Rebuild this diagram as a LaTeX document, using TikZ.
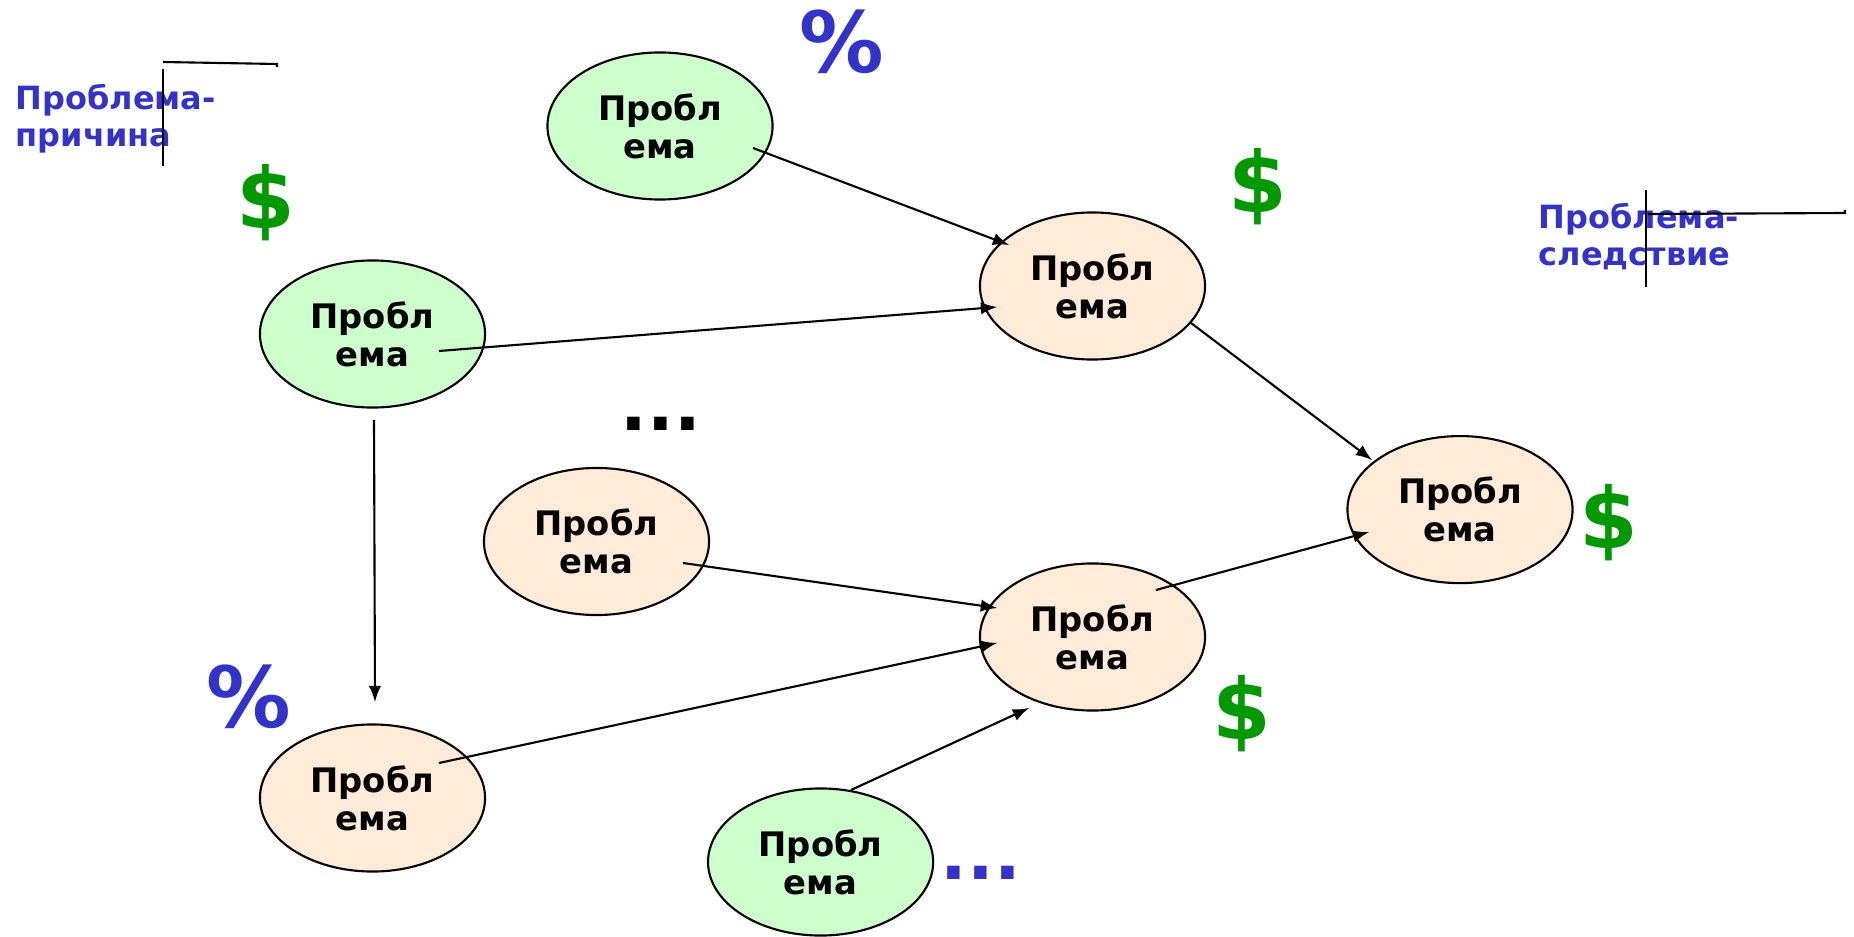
\documentclass[tikz,border=0pt]{standalone}
\usepackage{fontspec}
\setmainfont{DejaVu Sans}
\usepackage{tikz}
\usetikzlibrary{shapes.geometric, arrows, calc}
\definecolor{causegreen}{HTML}{CCFFCC}
\definecolor{effectbeige}{HTML}{FFEBD7}
\definecolor{labelblue}{HTML}{3333CC}
\definecolor{moneygreen}{HTML}{009900}
\tikzstyle{cause-ell} = [
    ellipse, minimum width=2.25cm, minimum height=1.47cm, line width=0.6pt,
    align=center, draw=black, fill=causegreen,
    font=\bfseries\fontsize{9.6}{10.8}\selectfont
]
\tikzstyle{effect-ell} = [
    ellipse, minimum width=2.25cm, minimum height=1.47cm, line width=0.6pt,
    align=center, draw=black, fill=effectbeige,
    font=\bfseries\fontsize{9.6}{10.8}\selectfont
]
\tikzstyle{money} = [text=moneygreen, font=\bfseries\fontsize{24}{24}\selectfont]
\tikzstyle{percent} = [text=labelblue, font=\bfseries\fontsize{24}{24}\selectfont]
\tikzstyle{side-label} = [
    text=labelblue, align=left, inner sep=0pt, anchor=north west,
    font=\bfseries\fontsize{9.1}{10.6}\selectfont
]
\tikzstyle{arrow} = [line width=0.6pt,->,>=latex]

\begin{document}
\begin{tikzpicture}[x=0.01cm, y=-0.01cm]
            \useasboundingbox (0,0) rectangle (1854,937);

            \node (cause1) [cause-ell] at (660,126) {Пробл\\ема};
            \node (cause2) [cause-ell] at (372.5,334) {Пробл\\ема};
            \node (mid1) [effect-ell] at (596.5,541.5) {Пробл\\ема};
            \node (eff1) [effect-ell] at (1092.5,286) {Пробл\\ема};
            \node (final) [effect-ell] at (1460,509.6) {Пробл\\ема};
            \node (eff2) [effect-ell] at (1092.5,637) {Пробл\\ема};
            \node (low1) [effect-ell] at (372.5,798) {Пробл\\ема};
            \node (cause3) [cause-ell] at (820.6,862) {Пробл\\ема};

            \node (lblcause) [side-label] at (15,83) {Проблема-\\причина};
            \draw [line width=0.6pt] (163,62) -- (277,64) -- (277,67);
            \draw [line width=0.6pt] (163,69) -- (163,166);

            \node (lbleffect) [side-label] at (1538,202) {Проблема-\\следствие};
            \draw [line width=0.6pt] (1646,190) -- (1646,287);
            \draw [line width=0.6pt] (1648,214) -- (1845,213) -- (1845,210);

            \node (usd1) [money] at (266,203) {\$};
            \node (usd2) [money] at (1258,187) {\$};
            \node (usd3) [money] at (1609,523) {\$};
            \node (usd4) [money] at (1242,714) {\$};
            \node (pct1) [percent] at (842,42) {\%};
            \node (pct2) [percent] at (249,697) {\%};
            \node (dots1) [font=\bfseries\fontsize{20}{20}\selectfont] at (661,424) {...};
            \node (dots2) [text=labelblue, font=\bfseries\fontsize{20}{20}\selectfont] at (981,873) {...};

            \draw [arrow] ($(cause1)+(93,22)$) -- ($(eff1)+(-83.5,-41)$);
            \draw [arrow] ($(cause2)+(66.5,17)$) -- ($(eff1)+(-95.5,21)$);
            \draw [arrow] ($(eff1)+(98.5,37)$) -- ($(final)+(-88,-49.6)$);
            \draw [arrow] ($(cause2)+(1.5,86)$) -- ($(low1)+(2.5,-96)$);
            \draw [arrow] ($(mid1)+(86.5,21.5)$) -- ($(eff2)+(-95.5,-29)$);
            \draw [arrow] ($(eff2)+(63.5,-47)$) -- ($(final)+(-91,22.4)$);
            \draw [arrow] ($(low1)+(66.5,-35)$) -- ($(eff2)+(-95.5,6)$);
            \draw [arrow] ($(cause3)+(30.4,-72)$) -- ($(eff2)+(-63.5,71)$);
        \end{tikzpicture}
\end{document}
